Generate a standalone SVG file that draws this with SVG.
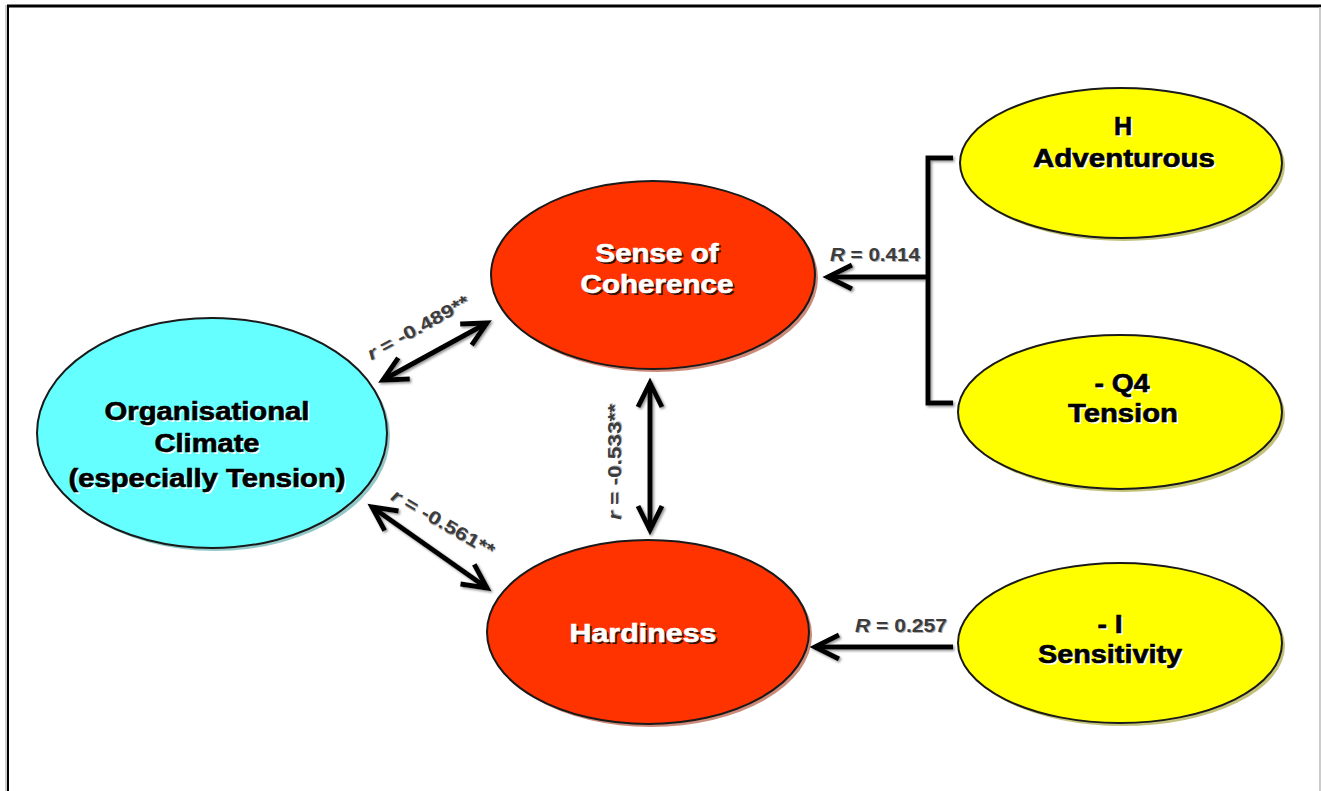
<svg xmlns="http://www.w3.org/2000/svg" width="1321" height="791" viewBox="0 0 1321 791">
<style>
.nt{font-family:"Liberation Sans",Arial,sans-serif;font-weight:bold;font-size:25px;text-anchor:middle}
.dk{fill:#000;stroke:#000;stroke-width:0.6}
.lt{fill:#fff;stroke:#fff;stroke-width:0.6}
.sh-w{fill:#fff;opacity:0.9}
.sh-d{fill:#3a1000}
.lab{font-family:"Liberation Sans",Arial,sans-serif;font-weight:bold;font-size:18px;fill:#3c3c3c;text-anchor:middle}
.labsh{font-family:"Liberation Sans",Arial,sans-serif;font-weight:bold;font-size:18px;fill:#b0b0b0;text-anchor:middle}
.conn{fill:none;stroke:#000;stroke-width:5}
.edge{stroke:#1a1a1a;stroke-width:2}
</style>
<defs>
<marker id="chev" viewBox="-32 -20 40 40" refX="0" refY="0" markerWidth="40" markerHeight="40" markerUnits="userSpaceOnUse" orient="auto-start-reverse">
<path d="M-24,-12 L0,0 L-24,12" fill="none" stroke="#000" stroke-width="5"/>
</marker>
<filter id="lsh" x="-20%" y="-20%" width="140%" height="140%">
<feDropShadow dx="1.5" dy="1.5" stdDeviation="0.8" flood-color="#777" flood-opacity="0.8"/>
</filter>
</defs>
<rect width="1321" height="791" fill="#fff"/>
<g id="frame">
<line x1="7" y1="6" x2="1321" y2="6" stroke="#000" stroke-width="3"/>
<line x1="8" y1="5" x2="8" y2="791" stroke="#000" stroke-width="2"/>
<line x1="6" y1="5" x2="6" y2="791" stroke="#999" stroke-width="1"/>
<line x1="1320" y1="7" x2="1320" y2="791" stroke="#bbb" stroke-width="1.5"/>
</g>
<g id="connectors" filter="url(#lsh)">
<line class="conn" x1="383" y1="380" x2="487" y2="323" marker-start="url(#chev)" marker-end="url(#chev)"/>
<line class="conn" x1="372" y1="507" x2="487" y2="588" marker-start="url(#chev)" marker-end="url(#chev)"/>
<line class="conn" x1="650" y1="383" x2="650" y2="530" marker-start="url(#chev)" marker-end="url(#chev)"/>
<path class="conn" d="M953,158 H928 V403 H953"/>
<line class="conn" x1="928" y1="277" x2="828" y2="277" marker-end="url(#chev)"/>
<line class="conn" x1="953" y1="647" x2="815" y2="647" marker-end="url(#chev)"/>
</g>
<g id="labels">
<g transform="translate(421,333) rotate(-29)">
<text class="labsh" x="1" y="1" textLength="114" lengthAdjust="spacingAndGlyphs"><tspan font-style="italic">r</tspan> = -0.489**</text>
<text class="lab" textLength="114" lengthAdjust="spacingAndGlyphs"><tspan font-style="italic">r</tspan> = -0.489**</text>
</g>
<g transform="translate(440,528) rotate(30)">
<text class="labsh" x="1" y="1" textLength="116" lengthAdjust="spacingAndGlyphs"><tspan font-style="italic">r</tspan> = -0.561**</text>
<text class="lab" textLength="116" lengthAdjust="spacingAndGlyphs"><tspan font-style="italic">r</tspan> = -0.561**</text>
</g>
<g transform="translate(621,462) rotate(-90)">
<text class="labsh" x="1" y="1" textLength="116" lengthAdjust="spacingAndGlyphs"><tspan font-style="italic">r</tspan> = -0.533**</text>
<text class="lab" textLength="116" lengthAdjust="spacingAndGlyphs"><tspan font-style="italic">r</tspan> = -0.533**</text>
</g>
<text class="labsh" x="876" y="262" textLength="90" lengthAdjust="spacingAndGlyphs"><tspan font-style="italic">R</tspan> = 0.414</text>
<text class="lab" x="875" y="261" textLength="90" lengthAdjust="spacingAndGlyphs"><tspan font-style="italic">R</tspan> = 0.414</text>
<text class="labsh" x="902" y="633" textLength="92" lengthAdjust="spacingAndGlyphs" style="font-size:19px"><tspan font-style="italic">R</tspan> = 0.257</text>
<text class="lab" x="901" y="632" textLength="92" lengthAdjust="spacingAndGlyphs" style="font-size:19px"><tspan font-style="italic">R</tspan> = 0.257</text>
</g>
<g id="node-climate">
<ellipse cx="215" cy="436" rx="175" ry="115" fill="#3a9a9a" opacity="0.55"/>
<ellipse cx="212" cy="433" rx="175" ry="115" fill="#66FFFF" class="edge"/>
<text class="nt sh-w" x="209" y="422" textLength="205" lengthAdjust="spacingAndGlyphs">Organisational</text>
<text class="nt dk" x="207" y="420" textLength="205" lengthAdjust="spacingAndGlyphs">Organisational</text>
<text class="nt sh-w" x="209" y="454" textLength="105" lengthAdjust="spacingAndGlyphs">Climate</text>
<text class="nt dk" x="207" y="452" textLength="105" lengthAdjust="spacingAndGlyphs">Climate</text>
<text class="nt sh-w" x="209" y="489" textLength="277" lengthAdjust="spacingAndGlyphs">(especially Tension)</text>
<text class="nt dk" x="207" y="487" textLength="277" lengthAdjust="spacingAndGlyphs">(especially Tension)</text>
</g>
<g id="node-coherence">
<ellipse cx="656" cy="278" rx="162" ry="94" fill="#a83a20" opacity="0.6"/>
<ellipse cx="653" cy="275" rx="162" ry="94" fill="#FF3300" class="edge"/>
<text class="nt sh-d" x="659" y="264" textLength="123" lengthAdjust="spacingAndGlyphs">Sense of</text>
<text class="nt lt" x="657" y="262" textLength="123" lengthAdjust="spacingAndGlyphs">Sense of</text>
<text class="nt sh-d" x="659" y="295" textLength="153" lengthAdjust="spacingAndGlyphs">Coherence</text>
<text class="nt lt" x="657" y="293" textLength="153" lengthAdjust="spacingAndGlyphs">Coherence</text>
</g>
<g id="node-hardiness">
<ellipse cx="651" cy="635" rx="161" ry="92" fill="#a83a20" opacity="0.6"/>
<ellipse cx="648" cy="632" rx="161" ry="92" fill="#FF3300" class="edge"/>
<text class="nt sh-d" x="645" y="644" textLength="147" lengthAdjust="spacingAndGlyphs">Hardiness</text>
<text class="nt lt" x="643" y="642" textLength="147" lengthAdjust="spacingAndGlyphs">Hardiness</text>
</g>
<g id="node-adventurous">
<ellipse cx="1124" cy="166" rx="161" ry="75" fill="#9a9a20" opacity="0.6"/>
<ellipse cx="1121" cy="163" rx="161" ry="75" fill="#FFFF00" class="edge"/>
<text class="nt sh-w" x="1125" y="137">H</text>
<text class="nt dk" x="1123" y="135">H</text>
<text class="nt sh-w" x="1126" y="169" textLength="182" lengthAdjust="spacingAndGlyphs">Adventurous</text>
<text class="nt dk" x="1124" y="167" textLength="182" lengthAdjust="spacingAndGlyphs">Adventurous</text>
</g>
<g id="node-tension">
<ellipse cx="1123" cy="415" rx="162" ry="77" fill="#9a9a20" opacity="0.6"/>
<ellipse cx="1120" cy="412" rx="162" ry="77" fill="#FFFF00" class="edge"/>
<text class="nt sh-w" x="1124" y="394" textLength="55" lengthAdjust="spacingAndGlyphs">- Q4</text>
<text class="nt dk" x="1122" y="392" textLength="55" lengthAdjust="spacingAndGlyphs">- Q4</text>
<text class="nt sh-w" x="1125" y="424" textLength="110" lengthAdjust="spacingAndGlyphs">Tension</text>
<text class="nt dk" x="1123" y="422" textLength="110" lengthAdjust="spacingAndGlyphs">Tension</text>
</g>
<g id="node-sensitivity">
<ellipse cx="1123" cy="646" rx="162" ry="80" fill="#9a9a20" opacity="0.6"/>
<ellipse cx="1120" cy="643" rx="162" ry="80" fill="#FFFF00" class="edge"/>
<text class="nt sh-w" x="1112" y="635" textLength="25" lengthAdjust="spacingAndGlyphs">- I</text>
<text class="nt dk" x="1110" y="633" textLength="25" lengthAdjust="spacingAndGlyphs">- I</text>
<text class="nt sh-w" x="1112" y="665" textLength="144" lengthAdjust="spacingAndGlyphs">Sensitivity</text>
<text class="nt dk" x="1110" y="663" textLength="144" lengthAdjust="spacingAndGlyphs">Sensitivity</text>
</g>
</svg>
